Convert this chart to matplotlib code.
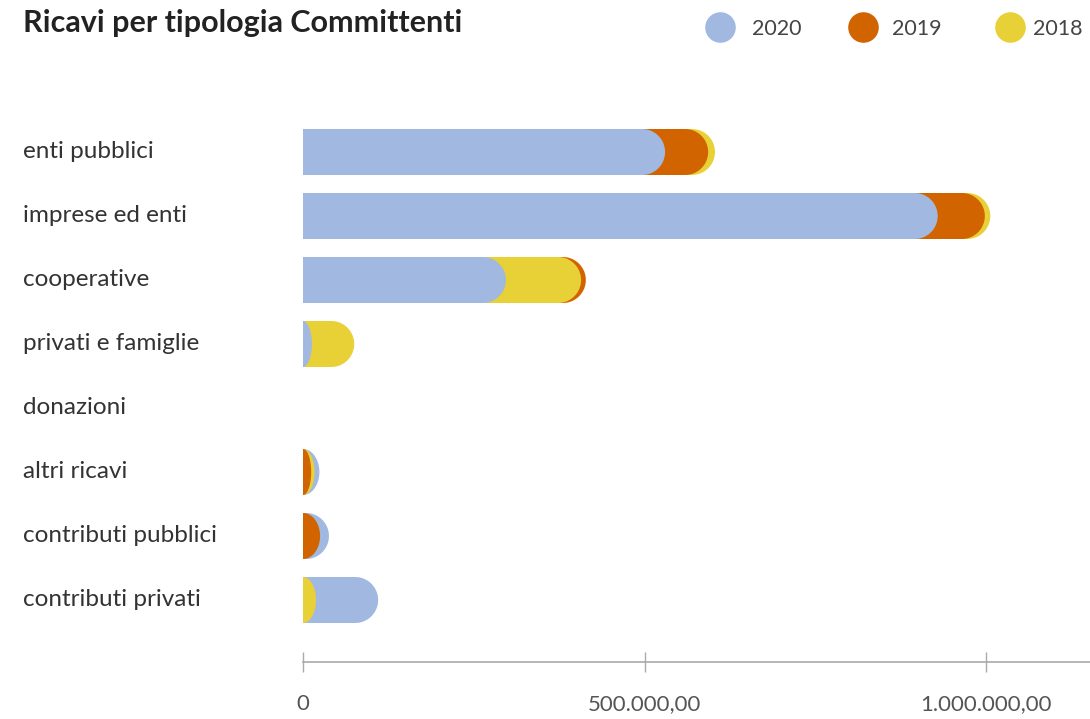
import numpy as np
import matplotlib
matplotlib.use('Agg')
from matplotlib import pyplot as plt
from matplotlib.path import Path
from matplotlib.patches import PathPatch
from matplotlib.lines import Line2D
from matplotlib.transforms import blended_transform_factory

# data
categories = ['enti pubblici', 'imprese ed enti', 'cooperative', 'privati e famiglie',
              'donazioni', 'altri ricavi', 'contributi pubblici', 'contributi privati']
years = ['2020', '2019', '2018']
values_2020 = [530000, 929000, 297000, 13000, 0, 24000, 38000, 110000]
values_2019 = [593000, 998000, 414000, 0, 0, 12000, 25000, 0]
values_2018 = [603000, 1006000, 407000, 75000, 0, 17000, 0, 19000]
tick_values = [0, 500000, 1000000]
tick_labels = ['0', '500.000,00', '1.000.000,00']

colors = {'2020': '#a1b8e1', '2019': '#d26400', '2018': '#e8d136'}
series = {'2020': values_2020, '2019': values_2019, '2018': values_2018}

plt.rcParams['font.family'] = ['Lato', 'DejaVu Sans']

W, H = 1090, 719
fig = plt.figure(figsize=(W / 100, H / 100), dpi=100)
ax_left, ax_right, ax_top, ax_bottom = 303, 1090, 100, 662
ax = fig.add_axes([ax_left / W, 1 - ax_bottom / H, (ax_right - ax_left) / W, (ax_bottom - ax_top) / H])

xmax = (ax_right - ax_left) / 683.2 * 1e6
ax.set_xlim(0, xmax)
ax.set_ylim(7 + 62 / 64, -52 / 64)

bar_h = 46 / 64
px_per_unit = (ax_right - ax_left) / xmax
r_data = 23 / px_per_unit


def rounded_bar(y, w, color):
    # bar with a rounded right end; the cap shrinks for very short bars
    if w <= 0:
        return
    rx = min(r_data, w)
    ry = bar_h / 2
    x0 = w - rx
    t = np.linspace(-np.pi / 2, np.pi / 2, 40)
    xs = [0, x0] + list(x0 + rx * np.cos(t)) + [x0, 0, 0]
    ys = [y - ry, y - ry] + list(y + ry * np.sin(t)) + [y + ry, y + ry, y - ry]
    verts = list(zip(xs, ys))
    codes = [Path.MOVETO] + [Path.LINETO] * (len(verts) - 2) + [Path.CLOSEPOLY]
    ax.add_patch(PathPatch(Path(verts, codes), facecolor=color, edgecolor='none'))


# overlapping bars: largest drawn first so smaller ones stay visible
for i, cat in enumerate(categories):
    row = sorted(years, key=lambda yr: series[yr][i], reverse=True)
    for yr in row:
        rounded_bar(i, series[yr][i], colors[yr])

# category labels on the left
tr = blended_transform_factory(fig.transFigure, ax.transData)
for i, cat in enumerate(categories):
    ax.text(23 / W, i, cat, transform=tr, ha='left', va='center',
            fontsize=17.5, color='#333333')

ax.set_yticks([])
for s in ['top', 'right', 'left']:
    ax.spines[s].set_visible(False)
ax.spines['bottom'].set_color('#aaaaaa')
ax.spines['bottom'].set_linewidth(1.2)
ax.set_xticks(tick_values)
ax.set_xticklabels(tick_labels)
ax.tick_params(axis='x', direction='inout', length=14, width=1, color='#aaaaaa',
               labelsize=16, labelcolor='#555555', pad=16)

# title
fig.text(23 / W, 1 - 23 / H, 'Ricavi per tipologia Committenti', ha='left', va='center',
         fontsize=22, fontweight='bold', color='#222222')

# legend
legend_pos = [(720, 752), (863, 892), (1010, 1033)]
for yr, (cx, tx) in zip(years, legend_pos):
    fig.add_artist(Line2D([cx / W], [1 - 27 / H], marker='o', markersize=21,
                          color=colors[yr], linestyle='none', transform=fig.transFigure))
    fig.text(tx / W, 1 - 29 / H, yr, ha='left', va='center', fontsize=15.5,
             color='#444444')

fig.savefig('out.png', dpi=100)
